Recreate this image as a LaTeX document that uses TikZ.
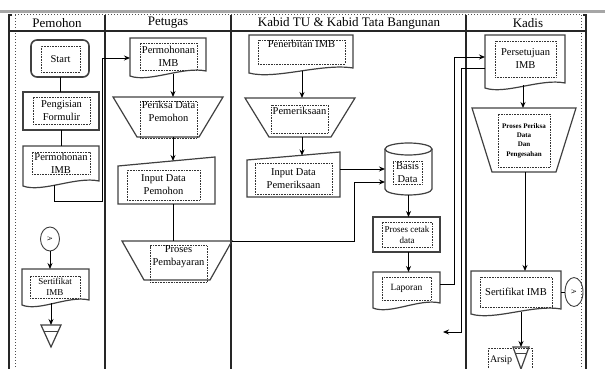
\documentclass[tikz,border=0pt]{standalone}
\usepackage{fontspec}
\setmainfont{Liberation Serif}
\usetikzlibrary{arrows.meta,shapes.geometric,calc}

\begin{document}
\begin{tikzpicture}[x=1pt, y=-1pt,
  lane/.style={line width=1.2pt, black!85},
  laneDot/.style={line width=1pt, black!70, dotted},
  head/.style={font=\fontsize{13}{15}\selectfont},
  sized/.style 2 args={minimum width=#1pt, minimum height=#2pt},
  shapeline/.style={draw=black!75, line width=1.2pt},
  ghost/.style={rectangle, inner sep=0pt, outer sep=0pt},
  box/.style={ghost, shapeline},
  inbox/.style={draw=black!80, densely dotted, line width=0.6pt, inner sep=0pt,
                align=center, font=\fontsize{10.5}{13}\selectfont},
  conn/.style={ellipse, shapeline, line width=0.9pt, inner sep=0pt,
               font=\fontsize{6.5}{7}\selectfont},
  flow/.style={-{Stealth[length=6pt,width=5pt]}, line width=0.9pt},
  link/.style={line width=0.9pt},
]
\useasboundingbox (0,0) rectangle (605,369);

% swimlanes
\draw[gray!70, line width=3pt] (0,11.5) -- (605,11.5);
\draw[laneDot] (15,15) -- (581,15);
\draw[laneDot] (15,15) -- (15,369);
\draw[laneDot] (581,15) -- (581,369);
\draw[lane] (12,15) -| (9,369);
\draw[lane] (583,15) -| (586,369);
\draw[lane] (9,31) -- (586,31);
\foreach \x in {105,231,466}
  \draw[lane] (\x,15) -- (\x,369);

\node[head] (hPemohon) at (57,23) {Pemohon};
\node[head] (hPetugas) at (168,23) {Petugas};
\node[head] (hKabid) at (349,23) {Kabid TU \& Kabid Tata Bangunan};
\node[head] (hKadis) at (528,23) {Kadis};

% Pemohon
\node[box, rounded corners=6pt, line width=1.6pt, sized={58}{37}] (start) at (60,58.5) {};
\node[inbox, sized={39}{26}] (startT) at (60.5,59) {Start};
\node[box, sized={76}{38}] (isi) at (61,111) {};
\node[inbox, sized={57}{27}] (isiT) at (61.5,110.5) {Pengisian\\Formulir};
\node[ghost, sized={76}{42}] (mohon1) at (61,167) {};
\node[inbox, sized={58}{22}] (mohon1T) at (61,163) {Permohonan\\IMB};
\node[conn, sized={19}{24}] (conA) at (50,239) {\rotatebox{-90}{A}};
\node[ghost, sized={67}{38}] (sert1) at (55.5,288) {};
\node[inbox, sized={50}{22}, font=\fontsize{9}{11}\selectfont] (sert1T) at (55,287) {Sertifikat\\IMB};
\node[ghost, sized={20}{22}] (arsip1) at (51,336) {};

% Petugas
\node[ghost, sized={76}{40}] (mohon2) at (168,58) {};
\node[inbox, sized={57}{27}] (mohon2T) at (168.5,56.5) {Permohonan\\IMB};
\node[ghost, sized={110}{40}] (periksa1) at (168,117) {};
\node[inbox, sized={57}{36}] (periksa1T) at (168.5,120) {Periksa Data\\Pemohon\\ \strut};
\node[ghost, sized={97}{47}] (input1) at (166.5,180.5) {};
\node[inbox, sized={73}{30}] (input1T) at (163.5,185) {Input Data\\Pemohon};
\node[ghost, sized={110}{39}] (bayar) at (177,260.5) {};
\node[inbox, sized={57}{36}] (bayarT) at (178.5,264) {Proses\\Pembayaran\\ \strut};

% Kabid TU & Kabid Tata Bangunan
\node[ghost, sized={104}{40}] (terbit) at (301,55) {};
\node[inbox, sized={87}{24}] (terbitT) at (301.5,52) {Penerbitan IMB\\ \strut};
\node[ghost, sized={110}{39}] (periksa2) at (300,117.5) {};
\node[inbox, sized={57}{28}] (periksa2T) at (299.5,119) {Pemeriksaan\\ \strut};
\node[ghost, sized={93}{45}] (input2) at (293.5,174.5) {};
\node[inbox, sized={77}{31}] (input2T) at (293.5,178.5) {Input Data\\Pemeriksaan};
\node[ghost, sized={47}{52}] (basis) at (408.5,169) {};
\node[inbox, sized={29}{23}] (basisT) at (407.5,172.5) {Basis\\Data};
\node[box, sized={67}{35}] (cetak) at (406.5,234.5) {};
\node[inbox, sized={50}{25}, font=\fontsize{9}{11}\selectfont] (cetakT) at (407,234.5) {Proses cetak\\data};
\node[ghost, sized={67}{38}] (laporan) at (406.5,291) {};
\node[inbox, sized={49}{23}, font=\fontsize{9.5}{11}\selectfont] (laporanT) at (406.5,288.5) {Laporan};

% Kadis
\node[ghost, sized={80}{55}] (setuju) at (525,62.5) {};
\node[inbox, sized={61}{36}] (setujuT) at (525.5,59) {Persetujuan\\IMB};
\node[ghost, sized={104}{64}] (periksa3) at (524,140) {};
\node[inbox, sized={52}{53}, font=\fontsize{7}{9.3}\selectfont\bfseries] (periksa3T) at (524,140.5) {Proses Periksa\\Data\\Dan\\Pengesahan};
\node[ghost, sized={90}{45}] (sert2) at (516,293.5) {};
\node[inbox, sized={72}{30}] (sert2T) at (516,292) {Sertifikat IMB};
\node[conn, sized={18}{29}] (conB) at (574,292) {\rotatebox{-90}{A}};
\node[ghost, sized={16}{22}] (arsip2) at (521,358) {};
\node[inbox, sized={44}{24}, align=left, text width=40pt, inner xsep=2pt,
      font=\fontsize{10}{12}\selectfont] (arsipT) at (510,360) {Arsip};
\coordinate (keluar) at (443,332);

% outlines of the ghost nodes
\foreach \d in {mohon1,sert1,mohon2,terbit,laporan,setuju,sert2}
  \draw[shapeline] ([yshift=2pt]\d.south west) -- (\d.north west) -- (\d.north east)
    -- ([yshift=7pt]\d.south east)
    .. controls ($(\d.south)!0.4!(\d.south east)+(0pt,12pt)$)
    and ($(\d.south)!0.5!(\d.south west)+(0pt,-5pt)$) .. ([yshift=2pt]\d.south west) -- cycle;
\foreach \m/\s in {input1/9pt, input2/8pt}
  \draw[shapeline] (\m.south west) -- (\m.south east) -- (\m.north east)
    -- ([yshift=-\s]\m.north west) -- cycle;
\foreach \t/\i in {periksa1/24pt, bayar/22pt, periksa2/24pt, periksa3/20pt}
  \draw[shapeline] (\t.north west) -- (\t.north east) -- ([xshift=-\i]\t.south east)
    -- ([xshift=\i]\t.south west) -- cycle;
\foreach \a in {arsip1, arsip2} {
  \draw[shapeline] (\a.north west) -- (\a.north east) -- (\a.south) -- cycle;
  \draw[shapeline] ($(\a.north west)!0.28!(\a.south)$) -- ($(\a.north east)!0.28!(\a.south)$);
}
\draw[shapeline] ([yshift=-6pt]basis.north west) -- ([yshift=6pt]basis.south west)
  arc[start angle=180, end angle=360, x radius=23.5pt, y radius=6pt]
  -- ([yshift=-6pt]basis.north east);
\draw[shapeline] ([yshift=-6pt]basis.north) ellipse [x radius=23.5pt, y radius=6pt];

% connectors
\draw[link] (start.south) -- (start.south |- isi.north);
\draw[link] (isi.south) -- (isi.south |- mohon1.north);
\draw[flow] ([xshift=-7pt,yshift=3pt]mohon1.south) |- ++(48,16) |- (mohon2.west);
\draw[flow] (conA.south) -- (conA.south |- sert1.north);
\draw[flow] ($(sert1.south -| arsip1.north)+(0pt,4pt)$) -- (arsip1.north);

\draw[flow] ([xshift=5pt,yshift=4pt]mohon2.south) -- ([xshift=5pt]periksa1.north);
\draw[flow] ([xshift=5pt]periksa1.south) -- ([xshift=6.5pt,yshift=-4pt]input1.north);
\draw[link] ([xshift=6.5pt]input1.south) -- ([xshift=-4pt]bayar.north);
\draw[flow] (bayar.north east) -- ++(122,0) |- ([yshift=-13pt]basis.west);

\draw[flow] ([xshift=1pt,yshift=4pt]terbit.south) -- ([xshift=2pt]periksa2.north);
\draw[flow] ([xshift=2pt]periksa2.south) -- ([xshift=8.5pt,yshift=-3.5pt]input2.north);
\draw[flow] ([yshift=5.5pt]input2.east) -- (basis.west);
\draw[flow] (basis.south) -- (basis.south |- cetak.north);
\draw[flow] ([xshift=2pt]cetak.south) -- ([xshift=2pt]laporan.north);
\draw[flow] ([yshift=7pt]laporan.east) -- ++(14,0) |- ([yshift=5.5pt]setuju.west);

\draw[flow] ([yshift=-5.5pt]setuju.west) -| ++(-24,264) -- (keluar);
\draw[flow] ([xshift=-2pt,yshift=5pt]setuju.south) -- ([xshift=-1pt]periksa3.north);
\draw[flow] ([xshift=1pt]periksa3.south) -- ([xshift=9pt]sert2.north);
\draw[link] ([yshift=1.5pt]sert2.east) -- (conB.west);
\draw[flow] ($(sert2.south -| arsip2.north)+(0pt,4pt)$) -- (arsip2.north);
\end{tikzpicture}
\end{document}
